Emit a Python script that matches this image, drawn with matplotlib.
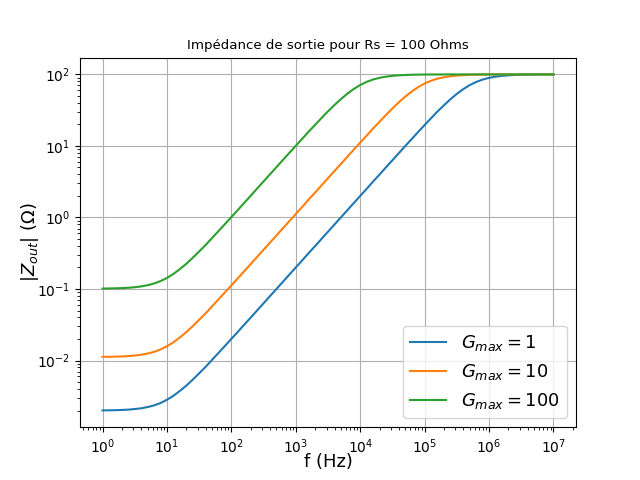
import matplotlib
matplotlib.use("Agg")
import matplotlib.pyplot as plt

freq = [1, 1.26, 1.58, 2, 2.51, 3.16, 3.98, 5.01, 6.31, 7.94,
        10, 12.6, 15.8, 20, 25.1, 31.6, 39.8, 50.1, 63.1, 79.4,
        100, 126, 158, 200, 251, 316, 398, 501, 631, 794,
        1e3, 1.26e3, 1.58e3, 2e3, 2.51e3, 3.16e3, 3.98e3, 5.01e3, 6.31e3, 7.94e3,
        1e4, 1.26e4, 1.58e4, 2e4, 2.51e4, 3.16e4, 3.98e4, 5.01e4, 6.31e4, 7.94e4,
        1e5, 1.26e5, 1.58e5, 2e5, 2.51e5, 3.16e5, 3.98e5, 5.01e5, 6.31e5, 7.94e5,
        1e6, 1.26e6, 1.58e6, 2e6, 2.51e6, 3.16e6, 3.98e6, 5.01e6, 6.31e6, 7.94e6,
        1e7]

# |Zout| (Ohms) pour chaque gain
z_g1 = [0.00201, 0.002016, 0.002025, 0.00204, 0.00206, 0.00210, 0.00215, 0.00224, 0.00236, 0.00255,
        0.00283, 0.00322, 0.00375, 0.00446, 0.00541, 0.00663, 0.00816, 0.01022, 0.01278, 0.01601,
        0.0201, 0.0252, 0.0317, 0.0399, 0.0502, 0.0632, 0.0796, 0.1002, 0.1262, 0.1589,
        0.200, 0.2518, 0.317, 0.399, 0.502, 0.632, 0.796, 1.002, 1.262, 1.589,
        2.00, 2.517, 3.168, 3.987, 5.018, 6.312, 7.937, 9.97, 12.52, 15.69,
        19.61, 24.42, 30.22, 37.06, 44.89, 53.45, 62.29, 70.79, 78.38, 84.63,
        89.44, 92.94, 95.37, 97.00, 98.08, 98.78, 99.22, 99.50, 99.70, 99.80,
        99.88]

z_g10 = [0.01126, 0.01129, 0.01134, 0.01142, 0.01155, 0.01175, 0.01206, 0.01253, 0.01324, 0.01430,
         0.01584, 0.01801, 0.02099, 0.02499, 0.03028, 0.03715, 0.04572, 0.05724, 0.07155, 0.08967,
         0.1126, 0.1410, 0.1775, 0.2235, 0.2813, 0.3542, 0.4459, 0.5613, 0.7067, 0.8896,
         1.120, 1.410, 1.775, 2.235, 2.813, 3.539, 4.455, 5.604, 7.049, 8.861,
         11.13, 13.96, 17.48, 21.81, 27.08, 33.39, 40.72, 48.95, 57.71, 66.47,
         74.59, 81.57, 87.13, 91.28, 94.22, 96.24, 97.58, 98.45, 99.02, 99.37,
         99.60, 99.75, 99.84, 99.90, 99.94, 99.96, 99.97, 99.98, 99.99, 99.99,
         100.0]

z_g100 = [0.1015, 0.1018, 0.1023, 0.1030, 0.1041, 0.1059, 0.1087, 0.1130, 0.1194, 0.1290,
          0.1428, 0.1624, 0.1893, 0.2254, 0.2731, 0.3350, 0.4123, 0.5162, 0.6452, 0.8086,
          1.015, 1.272, 1.601, 2.015, 2.536, 3.192, 4.018, 5.056, 6.360, 7.997,
          10.05, 12.62, 15.81, 19.75, 24.59, 30.43, 37.31, 45.16, 53.74, 62.57,
          71.06, 78.61, 84.81, 89.58, 93.04, 95.43, 97.05, 98.10, 98.79, 99.23,
          99.51, 99.69, 99.81, 99.88, 99.92, 99.95, 99.97, 99.98, 99.99, 99.99,
          100.0, 100.0, 100.0, 100.0, 100.0, 100.0, 100.0, 100.0, 100.0, 100.0,
          100.0]

labels = [r'$G_{max} = 1$', r'$G_{max} = 10$', r'$G_{max} = 100$']

plt.figure(figsize=(6.4, 4.8), dpi=100)
for z, lab in zip([z_g1, z_g10, z_g100], labels):
    plt.loglog(freq, z, label=lab)
plt.title('Impédance de sortie pour Rs = 100 Ohms', fontsize=9.6)
plt.xlabel('f (Hz)', fontsize=13, labelpad=-2)
plt.ylabel(r'$|Z_{out}|$ ($\Omega$)', fontsize=13, labelpad=-2.5)
plt.grid(True)
plt.legend(loc='lower right', fontsize=13)
plt.savefig('out.png', dpi=100)
